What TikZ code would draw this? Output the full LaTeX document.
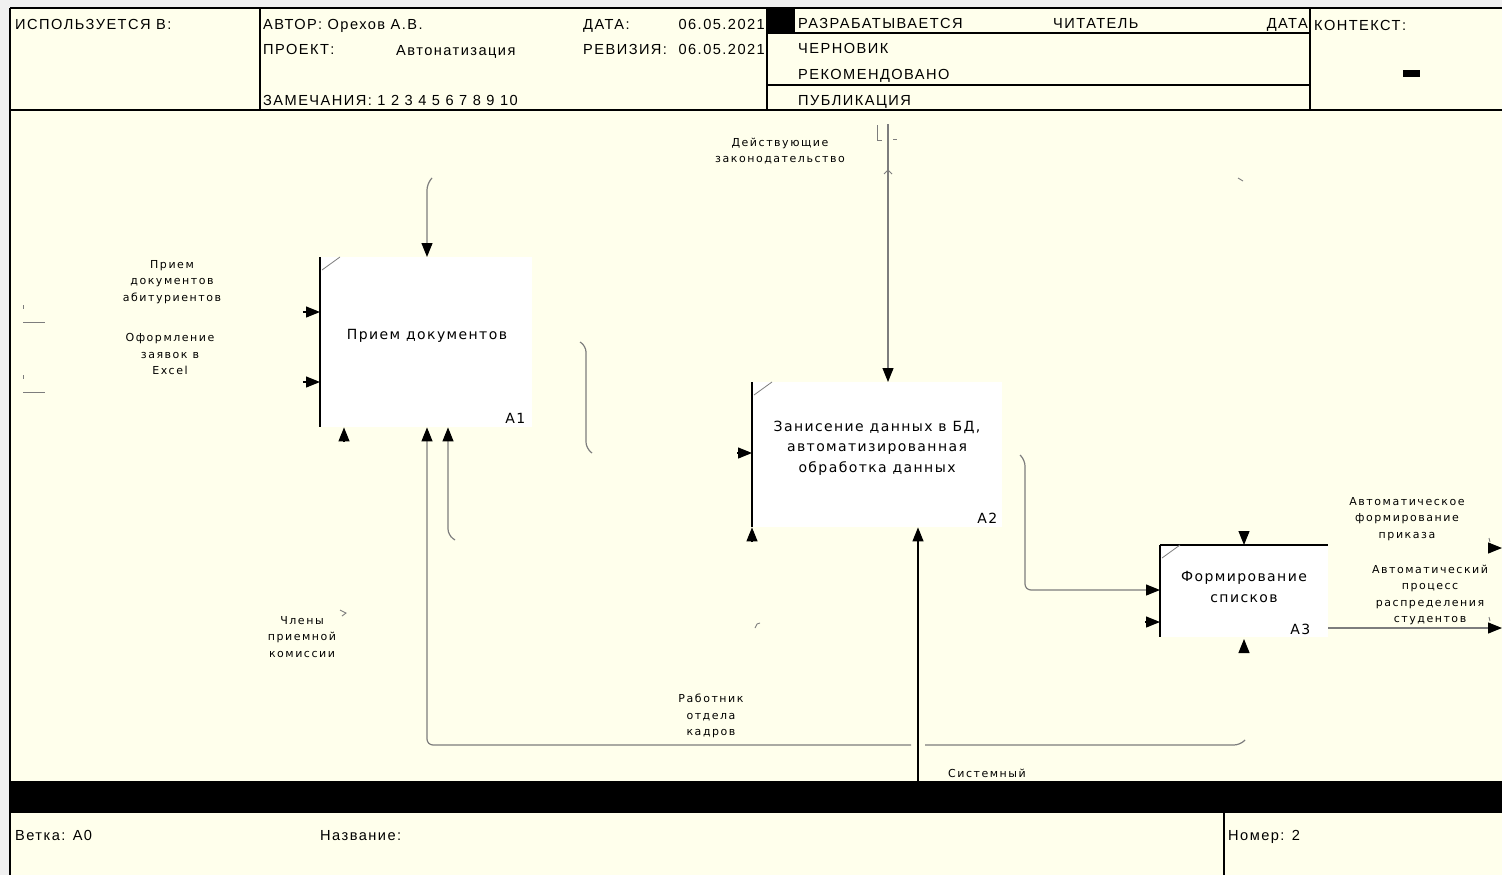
\documentclass[tikz,border=0pt]{standalone}
\usepackage{fontspec}
\setmainfont{Liberation Sans}
\newfontfamily\hdrfont[LetterSpace=10]{Liberation Sans}
\newfontfamily\boxfont[LetterSpace=10]{DejaVu Sans}
\newfontfamily\lblfont[LetterSpace=14]{DejaVu Sans}
\usetikzlibrary{arrows.meta}
\definecolor{cream}{RGB}{255,255,236}
\definecolor{outerbg}{RGB}{240,240,240}
\definecolor{conn}{RGB}{125,125,125}
\begin{document}
\begin{tikzpicture}[x=1pt,y=-1pt,
  hdr/.style={anchor=base west,inner sep=0pt,font=\hdrfont\fontsize{14.6}{16}\selectfont},
  hdrr/.style={hdr,anchor=base east},
  rule/.style={draw=black,line width=1.1pt},
  act/.style={fill=white,draw=none,anchor=north west,inner sep=0pt,align=center,
              font=\boxfont\fontsize{14}{20.5}\selectfont},
  edge/.style={draw=black,line width=1.6pt},
  corner/.style={draw=conn,line width=0.8pt},
  num/.style={anchor=south east,inner sep=0pt,font=\boxfont\fontsize{14}{16}\selectfont},
  lbl/.style={align=center,inner sep=0pt,font=\lblfont\fontsize{11}{16.5}\selectfont},
  cline/.style={draw=conn,line width=1.2pt,rounded corners=6pt},
  tip/.style={-{Triangle[length=14pt,width=11pt,color=black]}},
  stub/.style={draw=black,line width=1.2pt,-{Triangle[length=14pt,width=11pt,color=black]}},
  tick/.style={draw=conn,line width=0.9pt}
]
\useasboundingbox (0,0) rectangle (1502,875);
% backgrounds
\fill[outerbg] (0,0) rectangle (1502,875);
\fill[cream] (10,8) rectangle (1502,875);

% ---------- header ----------
\draw[rule] (10,8) -- (1502,8);
\draw[rule] (10,110) -- (1502,110);
\draw[rule] (10,8) -- (10,875);
\draw[rule] (260,8) -- (260,110);
\draw[rule] (767,8) -- (767,110);
\draw[rule] (1310,8) -- (1310,110);
\draw[rule] (767,33) -- (1310,33);
\draw[rule] (767,85) -- (1310,85);
\fill[black] (768,9) rectangle (795,33);
\fill[black] (1403,70) rectangle (1420,77);

\node[hdr] (used) at (15,30) {ИСПОЛЬЗУЕТСЯ В:};
\node[hdr] (author) at (263,30) {АВТОР: Орехов А.В.};
\node[hdr] (date) at (583,30) {ДАТА:};
\node[hdrr] (dateval) at (765,30) {06.05.2021};
\node[hdr] (proj) at (263,55) {ПРОЕКТ:};
\node[hdr] (projval) at (396,56) {Автонатизация};
\node[hdr] (rev) at (583,55) {РЕВИЗИЯ:};
\node[hdrr] (revval) at (765,55) {06.05.2021};
\node[hdr] (notes) at (263,105) {ЗАМЕЧАНИЯ: 1 2 3 4 5 6 7 8 9 10};
\node[hdr] (dev) at (798,29) {РАЗРАБАТЫВАЕТСЯ};
\node[hdr] (reader) at (1053,29) {ЧИТАТЕЛЬ};
\node[hdrr] (rdate) at (1308,29) {ДАТА};
\node[hdr] (draft) at (798,54) {ЧЕРНОВИК};
\node[hdr] (recom) at (798,80) {РЕКОМЕНДОВАНО};
\node[hdr] (publ) at (798,105) {ПУБЛИКАЦИЯ};
\node[hdr] (ctx) at (1314,31) {КОНТЕКСТ:};

% ---------- footer ----------
\fill[black] (10,781) rectangle (1502,813);
\draw[rule] (1224,813) -- (1224,875);
\node[hdr] (branch) at (15,840) {Ветка: A0};
\node[hdr] (title) at (320,840) {Название:};
\node[hdr] (number) at (1228,840) {Номер: 2};

% ---------- activity boxes ----------
\node[act,minimum width=212pt,minimum height=170pt] (A1) at (320,257) {};
\node[act,minimum width=250pt,minimum height=145pt] (A2) at (752,382) {};
\node[act,minimum width=168pt,minimum height=92pt] (A3) at (1160,545) {};
\node[act,anchor=center,fill=none] (A1t) at (427,336) {Прием документов};
\node[act,anchor=center,fill=none] (A2t) at (877,448)
  {Занисение данных в БД,\\автоматизированная\\обработка данных};
\node[act,anchor=center,fill=none] (A3t) at (1244,587) {Формирование\\списков};

\draw[edge] (A1.north west) -- (A1.south west);
\draw[edge] (A2.north west) -- (A2.south west);
\draw[edge] (A3.north west) -- (A3.south west);
\draw[edge] (A3.north west) -- (A3.north east);
\draw[corner] ([xshift=2pt,yshift=-13pt]A1.north west) -- ([xshift=20pt]A1.north west);
\draw[corner] ([xshift=2pt,yshift=-13pt]A2.north west) -- ([xshift=20pt]A2.north west);
\draw[corner] ([xshift=2pt,yshift=-13pt]A3.north west) -- ([xshift=20pt]A3.north west);
\node[num] (A1n) at ([xshift=-7pt,yshift=4pt]A1.south east) {A1};
\node[num] (A2n) at ([xshift=-5pt,yshift=4pt]A2.south east) {A2};
\node[num] (A3n) at ([xshift=-18pt,yshift=3pt]A3.south east) {A3};

% ---------- coordinates ----------
\coordinate (a1top) at (432,178);
\coordinate (a1in1) at (303,312);
\coordinate (a1in2) at (303,382);
\coordinate (a1b1) at (344,442);
\coordinate (a1b3) at (455,540);
\coordinate (loopR) at (1245,740);
\coordinate (gapR) at (925,745);
\coordinate (gapL) at (911,745);
\coordinate (a1outT) at (580,342);
\coordinate (a1outB) at (592,453);
\coordinate (a2top) at (888,124);
\coordinate (a2in) at (737,453);
\coordinate (a2b1) at (752,542);
\coordinate (sys) at (918,781);
\coordinate (a2outT) at (1020,455);
\coordinate (a3in2) at (1145,622);
\coordinate (a3top) at (1244,531);
\coordinate (a3bot) at (1244,652);
\coordinate (o1) at (1502,628);
\coordinate (o2s) at (1488,548);
\coordinate (o2) at (1502,548);

% ---------- connectors ----------
% control into A1
\draw[cline,tip] (a1top) -- ++(-5,6) -- (A1.north -| 427,0);
% inputs into A1
\draw[stub] (a1in1) -- (a1in1 -| A1.west);
\draw[stub] (a1in2) -- (a1in2 -| A1.west);
\draw[tick] (23,305) -- (23,309);
\draw[tick] (23,322) -- (45,322);
\draw[tick] (23,375) -- (23,379);
\draw[tick] (23,392) -- (45,392);
% mechanisms of A1
\draw[stub] (a1b1) -- (a1b1 |- A1.south);
\draw[cline] (loopR) -- ++(-5,5) -- (gapR);
\draw[cline,tip] (gapL) -- (427,745) -- (A1.south -| 427,0);
\draw[cline,tip] (a1b3) -- ++(-7,-5) -- (A1.south -| 448,0);
% output of A1 (bracket)
\draw[cline] (a1outT) -- ++(6,4) -- (586,448) -- (a1outB);
% control into A2
\draw[cline,tip] (a2top) -- (A2.north -| a2top);
\draw[tick] (877,125) -- (877,140) -- (882,140);
\draw[tick] (893,139) -- (897,139);
\draw[tick] (884,174) -- (888,170) -- (892,174);
% input into A2
\draw[stub] (a2in) -- (a2in -| A2.west);
% mechanisms of A2
\draw[stub] (a2b1) -- (a2b1 |- A2.south);
\draw[stub] (sys) -- (sys |- A2.south);
\draw[tick] (755,628) -- (757,624) -- (760,623);
% A2 output to A3
\draw[cline,tip] (a2outT) -- ++(5,5) -- (1025,590) -- (A3.west |- 0,590);
% other A3 arrows
\draw[stub] (a3in2) -- (a3in2 -| A3.west);
\draw[stub] (a3top) -- (a3top |- A3.north);
\draw[stub] (a3bot) -- ++(0,-13);
% A3 outputs
\draw[cline,tip] (A3.south east |- 0,628) -- (o1);
\draw[stub] (o2s) -- (o2);
\draw[tick] (1489,538) -- (1490,542);
\draw[tick] (1489,617) -- (1490,621);
\draw[tick] (1238,178) -- (1243,181);
\draw[tick] (340,610) -- (346,613) -- (342,616);

% ---------- arrow labels ----------
\node[lbl] (l1) at (172,282) {Прием\\документов\\абитуриентов};
\node[lbl] (l2) at (170,354) {Оформление\\заявок в\\Excel};
\node[lbl] (l3) at (302,637) {Члены\\приемной\\комиссии};
\node[lbl] (l4) at (711,716) {Работник\\отдела\\кадров};
\node[lbl] (l5) at (780,151) {Действующие\\законодательство};
\node[lbl] (l6) at (987,773) {Системный};
\node[lbl] (l7) at (1407,519) {Автоматическое\\формирование\\приказа};
\node[lbl] (l8) at (1430,595) {Автоматический\\процесс\\распределения\\студентов};
\end{tikzpicture}
\end{document}
